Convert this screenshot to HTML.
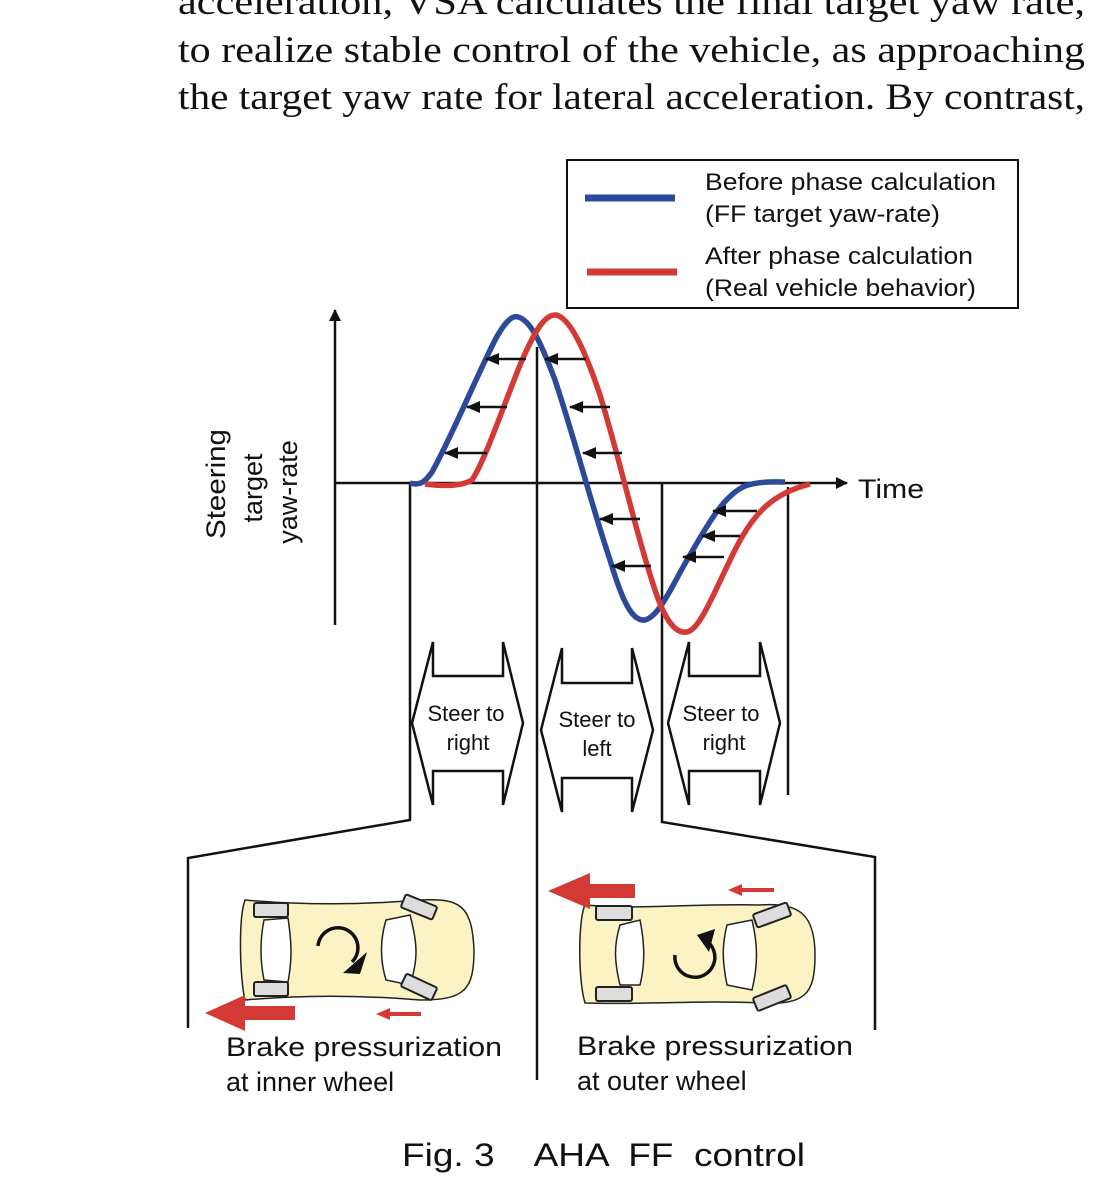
<!DOCTYPE html>
<html><head><meta charset="utf-8"><style>html,body{margin:0;padding:0;background:#fff}svg{display:block}</style></head>
<body>
<svg width="1100" height="1192" viewBox="0 0 1100 1192" xmlns="http://www.w3.org/2000/svg">
<defs>
<marker id="ah" markerWidth="14" markerHeight="12" refX="13" refY="6" orient="auto" markerUnits="userSpaceOnUse"><path d="M0,0 L14,6 L0,12 z" fill="#111"/></marker>
<marker id="ah2" markerWidth="12" markerHeight="12" refX="11" refY="6" orient="auto" markerUnits="userSpaceOnUse"><path d="M0,0 L12,6 L0,12 z" fill="#111"/></marker>
</defs>
<g font-family="Liberation Serif, serif" font-size="37" fill="#111">
<text x="178" y="14" textLength="907" lengthAdjust="spacingAndGlyphs">acceleration, VSA calculates the final target yaw rate,</text>
<text x="178" y="62" textLength="907" lengthAdjust="spacingAndGlyphs">to realize stable control of the vehicle, as approaching</text>
<text x="178" y="109" textLength="907" lengthAdjust="spacingAndGlyphs">the target yaw rate for lateral acceleration. By contrast,</text>
</g>
<rect x="567" y="160" width="451" height="148" fill="#fff" stroke="#111" stroke-width="2"/>
<line x1="585" y1="198" x2="675" y2="198" stroke="#2b4a9a" stroke-width="7"/>
<line x1="587" y1="272" x2="677" y2="272" stroke="#d33a35" stroke-width="7"/>
<g font-family="Liberation Sans, sans-serif" font-size="24" fill="#111">
<text x="705" y="190" textLength="291" lengthAdjust="spacingAndGlyphs">Before phase calculation</text>
<text x="705" y="222" textLength="235" lengthAdjust="spacingAndGlyphs">(FF target yaw-rate)</text>
<text x="705" y="264" textLength="268" lengthAdjust="spacingAndGlyphs">After phase calculation</text>
<text x="705" y="296" textLength="271" lengthAdjust="spacingAndGlyphs">(Real vehicle behavior)</text>
<text x="858" y="498" font-size="27" textLength="66" lengthAdjust="spacingAndGlyphs">Time</text>
<g font-size="27" text-anchor="middle">
<text transform="translate(225,484) rotate(-90)" textLength="110" lengthAdjust="spacingAndGlyphs">Steering</text>
<text transform="translate(262,488) rotate(-90)">target</text>
<text transform="translate(297,492) rotate(-90)">yaw-rate</text>
</g>
</g>
<g stroke="#111" stroke-width="2.5" fill="none">
<line x1="335" y1="625" x2="335" y2="310" marker-end="url(#ah2)"/>
<line x1="335" y1="483" x2="847" y2="483" marker-end="url(#ah2)"/>
</g>
<g stroke="#111" stroke-width="2.5" fill="none">
<polyline points="410,483 410,820 188,858 188,1028"/>
<line x1="537" y1="347" x2="537" y2="1080"/>
<polyline points="662,483 662,822 875,857 875,1030"/>
<line x1="788" y1="487" x2="788" y2="795"/>
</g>
<path d="M410,483 C420,486 425,482 432,472 C450,440 475,380 495,340 C505,322 512,315 518,317 C530,320 540,340 555,380 C575,440 590,500 610,560 C622,600 632,622 645,620 C660,616 672,585 690,555 C710,520 725,495 745,486 C760,481 775,482 785,482" fill="none" stroke="#2b4a9a" stroke-width="5.5"/>
<path d="M425,484 C440,486 460,487 472,480 C485,460 500,415 520,365 C535,330 545,314 556,315 C570,318 585,350 600,395 C620,460 635,530 655,590 C665,620 675,634 687,632 C700,630 715,590 735,550 C755,510 775,493 810,484" fill="none" stroke="#d33a35" stroke-width="5.5"/>
<g stroke="#111" stroke-width="2.5" marker-end="url(#ah)">
<line x1="526" y1="359" x2="486" y2="359"/>
<line x1="507" y1="407" x2="467" y2="407"/>
<line x1="487" y1="453" x2="445" y2="453"/>
<line x1="586" y1="359" x2="545" y2="359"/>
<line x1="610" y1="407" x2="570" y2="407"/>
<line x1="622" y1="453" x2="583" y2="453"/>
<line x1="640" y1="519" x2="600" y2="519"/>
<line x1="651" y1="566" x2="612" y2="566"/>
<line x1="757" y1="511" x2="713" y2="511"/>
<line x1="740" y1="536" x2="702" y2="536"/>
<line x1="724" y1="557" x2="683" y2="557"/>
</g>
<g fill="#fff" stroke="#111" stroke-width="2.5">
<path d="M433,642 L433,676 L503,676 L503,642 L523,723 L503,805 L503,771 L433,771 L433,805 L412,723 Z"/>
<path d="M562,648 L562,683 L632,683 L632,648 L653,730 L632,812 L632,778 L562,778 L562,812 L541,730 Z"/>
<path d="M689,642 L689,676 L760,676 L760,642 L780,723 L760,805 L760,771 L689,771 L689,805 L668,723 Z"/>
</g>
<g font-family="Liberation Sans, sans-serif" font-size="22" fill="#111" text-anchor="middle">
<text x="466" y="721">Steer to</text><text x="468" y="750">right</text>
<text x="597" y="727">Steer to</text><text x="597" y="756">left</text>
<text x="721" y="721">Steer to</text><text x="724" y="750">right</text>
</g>
<!-- left car -->
<g stroke="#222" stroke-width="1.5">
<path d="M245,900 C300,905 360,905 420,900 C460,898 472,905 474,950 C474,990 465,1000 420,1000 C360,995 300,995 245,1000 C240,980 238,920 245,900 Z" fill="#fbf3c3"/>
<path d="M264,920 L288,918 C292,945 292,960 288,982 L264,980 C260,960 260,940 264,920 Z" fill="#fff"/>
<path d="M386,920 L410,915 C418,945 418,960 410,985 L386,980 C380,960 380,940 386,920 Z" fill="#fff"/>
<rect x="254" y="903" width="34" height="14" rx="2" fill="#ddd" stroke-width="2"/>
<rect x="254" y="982" width="34" height="14" rx="2" fill="#ddd" stroke-width="2"/>
<rect x="402" y="900" width="34" height="14" rx="2" fill="#ddd" stroke-width="2" transform="rotate(22 419 907)"/>
<rect x="402" y="980" width="34" height="14" rx="2" fill="#ddd" stroke-width="2" transform="rotate(25 419 987)"/>
</g>
<path d="M318,946 A20,20 0 1 1 352,962" fill="none" stroke="#111" stroke-width="3.5"/>
<path d="M343,973 L367,952 L360,974 Z" fill="#111"/>
<rect x="240" y="1006" width="55" height="14" fill="#d33a35"/>
<path d="M205,1013 L245,995 L245,1031 Z" fill="#d33a35"/>
<rect x="388" y="1012" width="33" height="4" fill="#d33a35"/><path d="M376,1014 L390,1008 L390,1020 Z" fill="#d33a35"/>
<!-- right car -->
<g stroke="#222" stroke-width="1.5">
<path d="M585,905 C640,910 700,903 760,905 C800,902 815,915 815,955 C815,995 805,1005 760,1003 C700,1000 640,1005 585,1003 C578,980 578,920 585,905 Z" fill="#fbf3c3"/>
<path d="M620,925 L640,920 C645,945 645,965 640,985 L620,985 C614,960 614,945 620,925 Z" fill="#fff"/>
<path d="M727,925 L752,920 C758,945 758,965 752,990 L727,985 C722,960 722,945 727,925 Z" fill="#fff"/>
<rect x="596" y="906" width="36" height="14" rx="2" fill="#ddd" stroke-width="2"/>
<rect x="596" y="987" width="36" height="14" rx="2" fill="#ddd" stroke-width="2"/>
<rect x="754" y="908" width="36" height="14" rx="2" fill="#ddd" stroke-width="2" transform="rotate(-20 772 915)"/>
<rect x="754" y="991" width="36" height="14" rx="2" fill="#ddd" stroke-width="2" transform="rotate(-22 772 998)"/>
</g>
<path d="M675,955 A20,20 0 1 0 705,940" fill="none" stroke="#111" stroke-width="3.5"/>
<path d="M697,935 L715,929 L709,952 Z" fill="#111"/>
<rect x="585" y="884" width="50" height="14" fill="#d33a35"/>
<path d="M548,891 L590,873 L590,909 Z" fill="#d33a35"/>
<rect x="740" y="888" width="34" height="4" fill="#d33a35"/><path d="M728,890 L742,884 L742,896 Z" fill="#d33a35"/>
<g font-family="Liberation Sans, sans-serif" font-size="27" fill="#111">
<text x="226" y="1056" textLength="276" lengthAdjust="spacingAndGlyphs">Brake pressurization</text>
<text x="226" y="1091">at inner wheel</text>
<text x="577" y="1055" textLength="276" lengthAdjust="spacingAndGlyphs">Brake pressurization</text>
<text x="577" y="1090">at outer wheel</text>
<text x="402" y="1166" font-size="32" xml:space="preserve" textLength="403" lengthAdjust="spacingAndGlyphs">Fig. 3    AHA  FF  control</text>
</g>
</svg>
</body></html>
